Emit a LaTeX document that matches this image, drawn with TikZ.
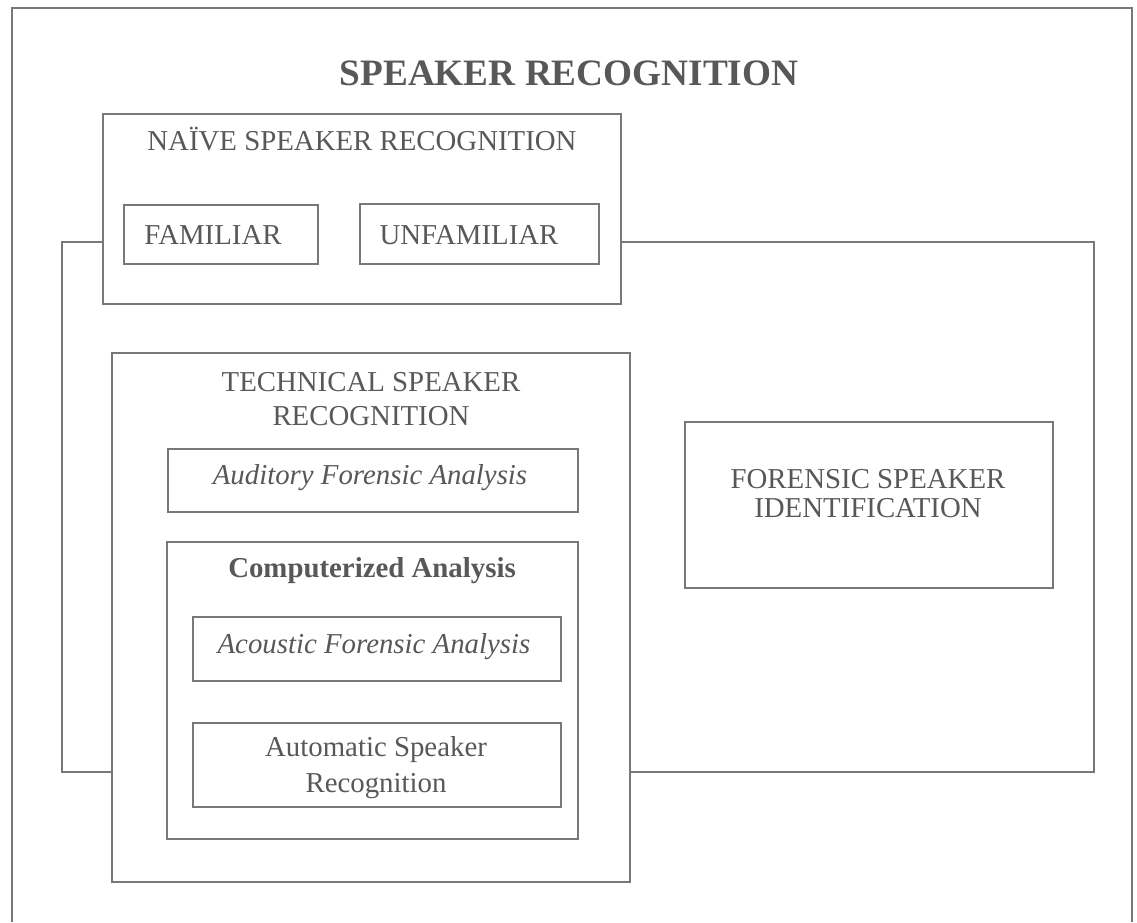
\documentclass[tikz,border=0pt]{standalone}
\usepackage{fontspec}
\setmainfont{Liberation Serif}
\usetikzlibrary{positioning, fit}
\definecolor{linegray}{RGB}{120,120,120}
\definecolor{inkgray}{RGB}{88,88,88}

\begin{document}
\begin{tikzpicture}[
    x=0.025cm, y=-0.025cm,
    panel/.style={draw=linegray, line width=1.4pt, fill=white, inner sep=0pt},
    boxtext/.style={text=inkgray, font=\fontsize{20.5}{23.5}\selectfont, align=center, anchor=base, inner sep=0pt},
    headtext/.style={boxtext, font=\bfseries\fontsize{26.5}{30}\selectfont}
]
    \useasboundingbox (0,0) rectangle (1137,922);
    % outer frame, its bottom edge runs off the page
    \draw[linegray, line width=1.4pt] (12,922) -- (12,8) -- (1132,8) -- (1132,922);
    \node[headtext] (title) at (569,85) {SPEAKER RECOGNITION};

    % forensic area, partly hidden behind the white panels
    \node[panel, fill=none, fit={(62,242) (1094,772)}] (area) {};

    % naive
    \node[panel, fit={(103,114) (621,304)}] (naive) {};
    \node[boxtext] (naivetxt) at (362,150) {NAÏVE SPEAKER RECOGNITION};
    \node[panel, fit={(124,205) (318,264)}] (familiar) {};
    \node[boxtext] (familiartxt) at (213,244) {FAMILIAR};
    \node[panel, fit={(360,204) (599,264)}] (unfamiliar) {};
    \node[boxtext] (unfamiliartxt) at (469,244) {UNFAMILIAR};

    % technical (base is the last line)
    \node[panel, fit={(112,353) (630,882)}] (technical) {};
    \node[boxtext] (technicaltxt) at (371,425) {TECHNICAL SPEAKER\\RECOGNITION};
    \node[panel, fit={(168,449) (578,512)}] (auditory) {};
    \node[boxtext] (auditorytxt) at (370,484) {\itshape Auditory Forensic Analysis};
    \node[panel, fit={(167,542) (578,839)}] (computer) {};
    \node[boxtext] (computertxt) at (372,577) {\bfseries Computerized Analysis};
    \node[panel, fit={(193,617) (561,681)}] (acoustic) {};
    \node[boxtext] (acoustictxt) at (374,653) {\itshape Acoustic Forensic Analysis};
    \node[panel, fit={(193,723) (561,807)}] (automatic) {};
    \node[boxtext, font=\fontsize{20.5}{25}\selectfont] (automatictxt) at (376,792) {Automatic Speaker\\Recognition};

    % forensic identification
    \node[panel, fit={(685,422) (1053,588)}] (forensic) {};
    \node[boxtext, font=\fontsize{20.5}{20.5}\selectfont] (forensictxt) at (868,517) {FORENSIC SPEAKER\\IDENTIFICATION};
\end{tikzpicture}
\end{document}
